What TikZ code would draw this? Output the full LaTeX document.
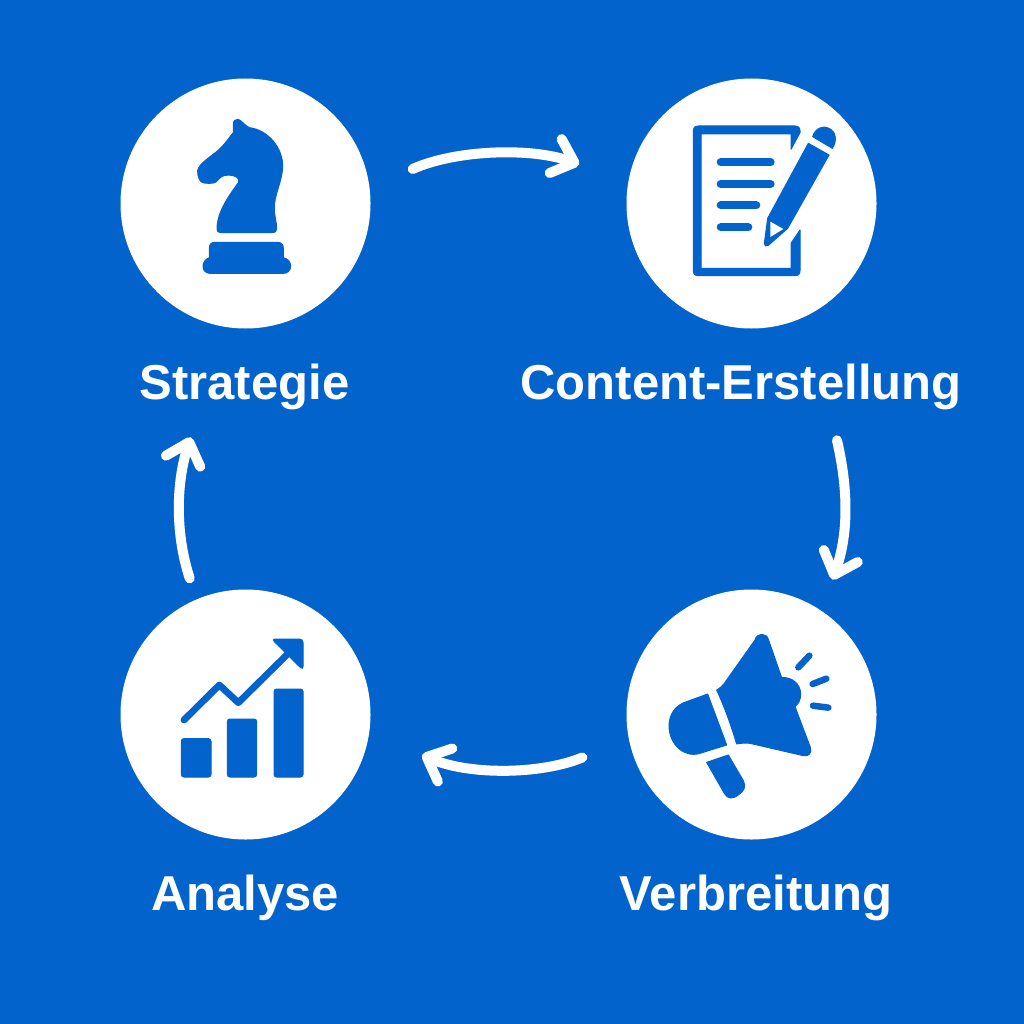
\documentclass[tikz,border=0pt]{standalone}
\usepackage{fontspec}
\setmainfont{Liberation Sans}
\usetikzlibrary{arrows.meta}
\definecolor{brand}{HTML}{0363CC}
\tikzset{
  disc/.style={circle,fill=white,minimum size=250pt,inner sep=0pt},
  lab/.style={text=white,font=\fontsize{49pt}{52pt}\selectfont\bfseries,anchor=base},
  flow/.style={draw=white,line width=10pt,line cap=round,line join=round,
    -{Straight Barb[length=20pt,width=36pt,line width=10pt,round,sep=0pt]}},
  icongrid/.style={x=.33333pt,y=-.33333pt},
  ico/.style={fill=brand,draw=brand,line width=1pt,line join=round},
  icl/.style={draw=brand,line cap=round,line join=round,line width=#1}
}
\begin{document}
\begin{tikzpicture}[x=1pt,y=-1pt]
\fill[brand] (0,0) rectangle (1024,1024);
\useasboundingbox (0,0) rectangle (1024,1024);
\node[disc] (strategie) at (245.5,203.5) {};
\node[disc] (content) at (751.5,203.5) {};
\node[disc] (verbreitung) at (751.5,714.5) {};
\node[disc] (analyse) at (245.5,714.5) {};
\node[lab] (t1) at (244.5,399) {Strategie};
\node[lab] (t2) at (741,399) {Content-Erstellung};
\node[lab] (t3) at (756,910) {Verbreitung};
\node[lab] (t4) at (245,910) {Analyse};
% connectors
\draw[flow,shorten <=47pt,shorten >=52pt] (strategie.7) .. controls (455,150) and (530,147) .. (content.170.5);
\draw[flow,shorten <=128.5pt,shorten >=33pt] (content.297.2) .. controls (847,484) and (850,530) .. (verbreitung.56.5);
\draw[flow,shorten <=50pt,shorten >=57.5pt] (verbreitung.191.6) .. controls (540,775) and (468,775) .. (analyse.352.8);
\draw[flow,shorten <=22pt,shorten >=115.7pt] (analyse.113.6) .. controls (175.5,535) and (175.6,484.5) .. (strategie.261.3);
% knight
\begin{scope}[shift={(120,80)},icongrid]
\fill[ico] (340,158) -- (340,133) .. controls (340,123) and (346,118) .. (353,118)
  .. controls (362,118) and (372,135) .. (388,143)
  .. controls (445,150) and (490,205) .. (488,262)
  .. controls (485,310) and (462,345) .. (463,385)
  .. controls (463,410) and (470,425) .. (470,446)
  .. controls (470,455) and (465,458) .. (458,458)
  -- (302,458) .. controls (294,458) and (291,454) .. (291,446)
  .. controls (292,395) and (325,350) .. (355,308)
  .. controls (362,295) and (345,285) .. (325,285)
  .. controls (305,285) and (298,295) .. (288,306)
  .. controls (280,312) and (255,310) .. (248,308)
  .. controls (238,305) and (232,285) .. (233,272)
  .. controls (236,250) and (280,225) .. (298,208)
  .. controls (315,192) and (328,172) .. (340,158) -- cycle;
\fill[ico] (268,505) .. controls (268,492) and (275,487) .. (285,487)
  -- (473,487) .. controls (484,487) and (490,494) .. (490,505)
  -- (490,533) .. controls (505,536) and (512,548) .. (512,558)
  .. controls (512,572) and (502,580) .. (490,580)
  -- (270,580) .. controls (258,580) and (249,572) .. (249,558)
  .. controls (249,548) and (256,537) .. (268,533) -- cycle;
\end{scope}
% document and pencil
\begin{scope}[shift={(625,80)},icongrid]
\fill[ico] (525,158) -- (525,153) .. controls (525,143) and (520,138) .. (510,138)
  -- (220,138) .. controls (210,138) and (205,143) .. (205,153)
  -- (205,572) .. controls (205,582) and (210,587) .. (220,587)
  -- (510,587) .. controls (520,587) and (525,582) .. (525,572)
  -- (525,450) -- (498,490) -- (498,565) -- (228,565) -- (228,162) -- (498,162) -- (498,208) -- cycle;
\draw[icl=8pt] (287,247) -- (437,247) (287,312) -- (437,312) (287,376) -- (394,376) (287,442) -- (370,442);
\fill[ico] (563,170) .. controls (570,145) and (595,135) .. (612,145)
  .. controls (632,155) and (638,180) .. (622,205) -- cycle;
\fill[ico] (550,190) -- (612,225) -- (488,445) -- (430,496)
  .. controls (424,501) and (417,498) .. (418,490) -- (428,415) -- cycle;
\fill[white] (436,425) -- (475,447) -- (436,471) -- cycle;
\end{scope}
% megaphone
\begin{scope}[shift={(625,590)},icongrid]
\fill[ico] (390,150) .. controls (395,128) and (425,128) .. (430,148)
  -- (470,263) .. controls (500,260) and (527,282) .. (527,312)
  .. controls (527,330) and (520,342) .. (510,350)
  -- (556,472) .. controls (562,490) and (550,500) .. (535,497)
  -- (375,460) .. controls (360,458) and (345,460) .. (335,462)
  .. controls (318,405) and (298,350) .. (275,300)
  .. controls (285,293) and (292,290) .. (298,280) -- cycle;
\fill[ico] (248,312) -- (305,465) -- (225,490)
  .. controls (175,505) and (132,460) .. (132,408)
  .. controls (132,375) and (150,345) .. (185,335) -- cycle;
\fill[ico] (245,517) -- (310,495) -- (355,572)
  .. controls (365,590) and (355,605) .. (342,613)
  .. controls (325,628) and (308,628) .. (298,610) -- cycle;
\draw[icl=6.5pt] (520,232) -- (553,197) (563,282) -- (604,266) (564,347) -- (610,353);
\end{scope}
% chart
\begin{scope}[shift={(120,590)},icongrid]
\fill[ico,rounded corners=2.5pt] (184,446) rectangle (273,561);
\fill[ico,rounded corners=2.5pt] (322,387) rectangle (410,561);
\fill[ico,rounded corners=2.5pt] (462,297) rectangle (549,561);
\draw[icl=6.8pt] (192,390) -- (298,285) -- (355,338) -- (505,190);
\fill[ico,rounded corners=3.5pt] (455,147) -- (549,147) -- (549,240) -- cycle;
\end{scope}
\end{tikzpicture}
\end{document}
